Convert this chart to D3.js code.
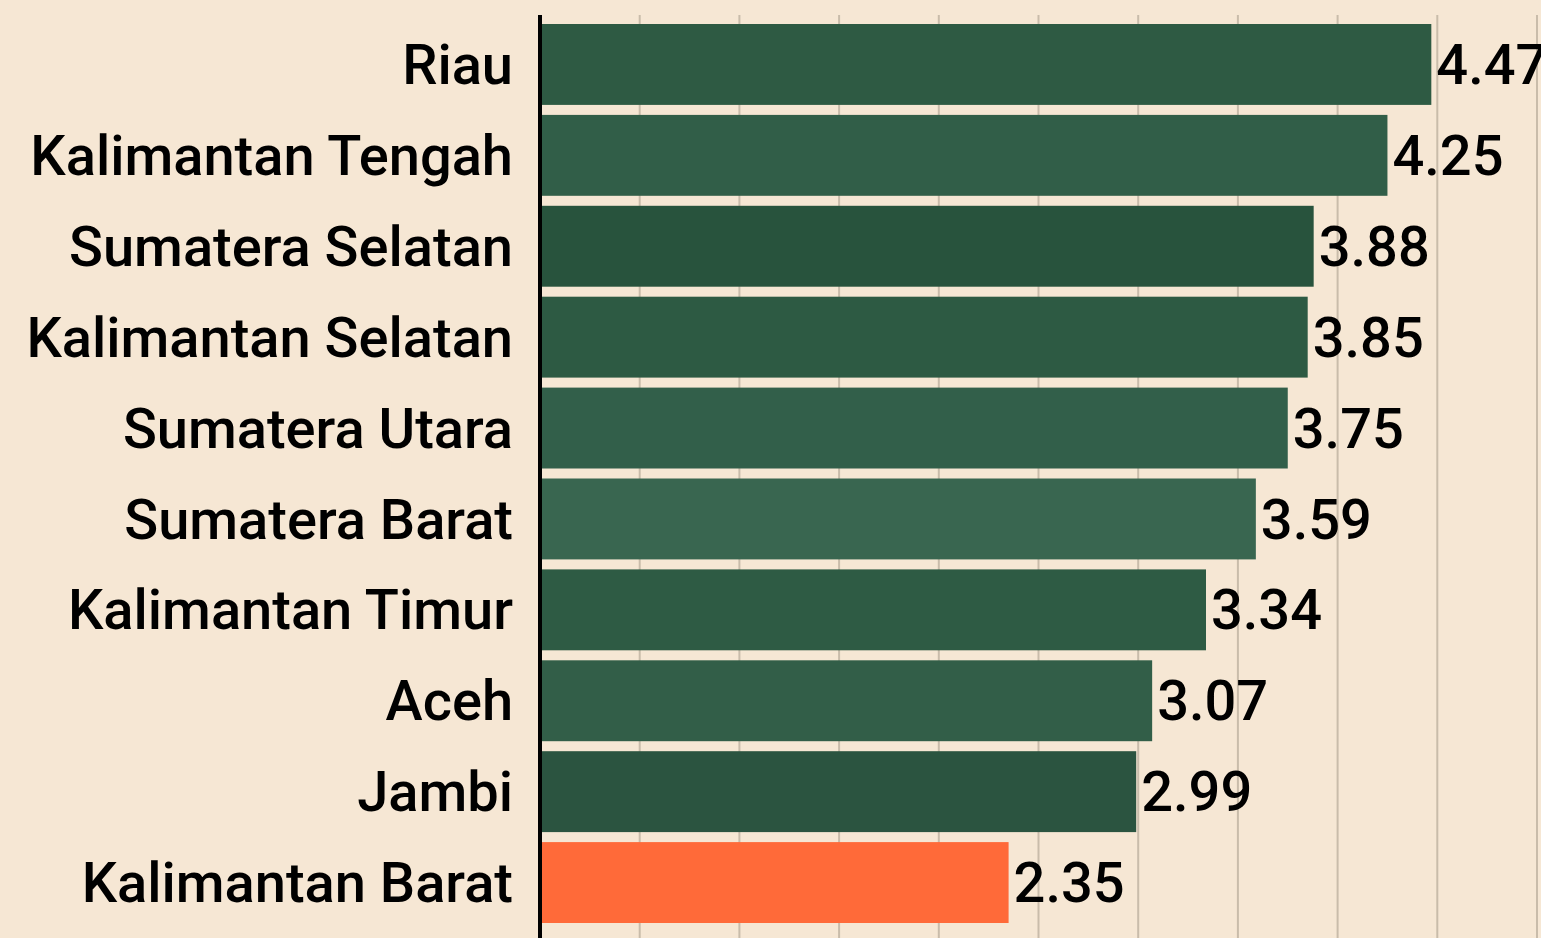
<!DOCTYPE html>
<html>
<head>
<meta charset="utf-8">
<script src="https://cdn.jsdelivr.net/npm/d3@7"></script>
<style>
  html, body { margin: 0; padding: 0; background: #f6e7d4; overflow: hidden; }
  #viz_container { width: 1541px; height: 938px; }
  text { font-family: Roboto, "Noto Sans", sans-serif; font-weight: 500; }
</style>
</head>
<body>
<div id="viz_container"></div>
<script>
// provinces and values, top to bottom
const provinces = [
  "Riau", "Kalimantan Tengah", "Sumatera Selatan", "Kalimantan Selatan",
  "Sumatera Utara", "Sumatera Barat", "Kalimantan Timur", "Aceh",
  "Jambi", "Kalimantan Barat"
];
const values = [4.47, 4.25, 3.88, 3.85, 3.75, 3.59, 3.34, 3.07, 2.99, 2.35];
const barColors = [
  "#2e5a43", "#315e48", "#28533d", "#2d5a43", "#325f4a",
  "#396650", "#2e5b44", "#325e48", "#2b5440", "#ff6a39"
];
const gridTicks = [0.5, 1, 1.5, 2, 2.5, 3, 3.5, 4, 4.5, 5];

const width = 1541;
const height = 938;
const margin = { top: 15, left: 540 };

const svg = d3
  .select("#viz_container")
  .append("svg")
  .attr("width", width)
  .attr("height", height)
  .attr("viewBox", `0 0 ${width} ${height}`);

const x = d3.scaleLinear().domain([0, 5]).range([margin.left, 1537]);

const y = d3
  .scaleBand()
  .domain(provinces)
  .range([14, 933])
  .padding(0.11);

// vertical gridlines
svg.append("g")
  .selectAll("line")
  .data(gridTicks)
  .enter()
  .append("line")
  .attr("x1", (d) => x(d))
  .attr("x2", (d) => x(d))
  .attr("y1", margin.top)
  .attr("y2", height)
  .attr("stroke", "#c9bcaa")
  .attr("stroke-width", 2);

// bars
svg.append("g")
  .selectAll("rect")
  .data(values)
  .enter()
  .append("rect")
  .attr("x", x(0))
  .attr("y", (d, i) => y(provinces[i]))
  .attr("width", (d) => x(d) - x(0))
  .attr("height", y.bandwidth())
  .attr("fill", (d, i) => barColors[i]);

// value labels
svg.append("g")
  .selectAll("text")
  .data(values)
  .enter()
  .append("text")
  .attr("x", (d) => x(d) + 5)
  .attr("y", (d, i) => y(provinces[i]) + y.bandwidth() / 2)
  .attr("dy", "0.35em")
  .attr("font-size", 56)
  .attr("fill", "#000")
  .text((d) => d.toFixed(2));

// category labels
svg.append("g")
  .selectAll("text")
  .data(provinces)
  .enter()
  .append("text")
  .attr("x", 513)
  .attr("y", (d) => y(d) + y.bandwidth() / 2)
  .attr("dy", "0.35em")
  .attr("text-anchor", "end")
  .attr("font-size", 56)
  .attr("fill", "#000")
  .text((d) => d);

// axis line
svg.append("line")
  .attr("x1", x(0))
  .attr("x2", x(0))
  .attr("y1", margin.top)
  .attr("y2", height)
  .attr("stroke", "#000")
  .attr("stroke-width", 4);
</script>
</body>
</html>
